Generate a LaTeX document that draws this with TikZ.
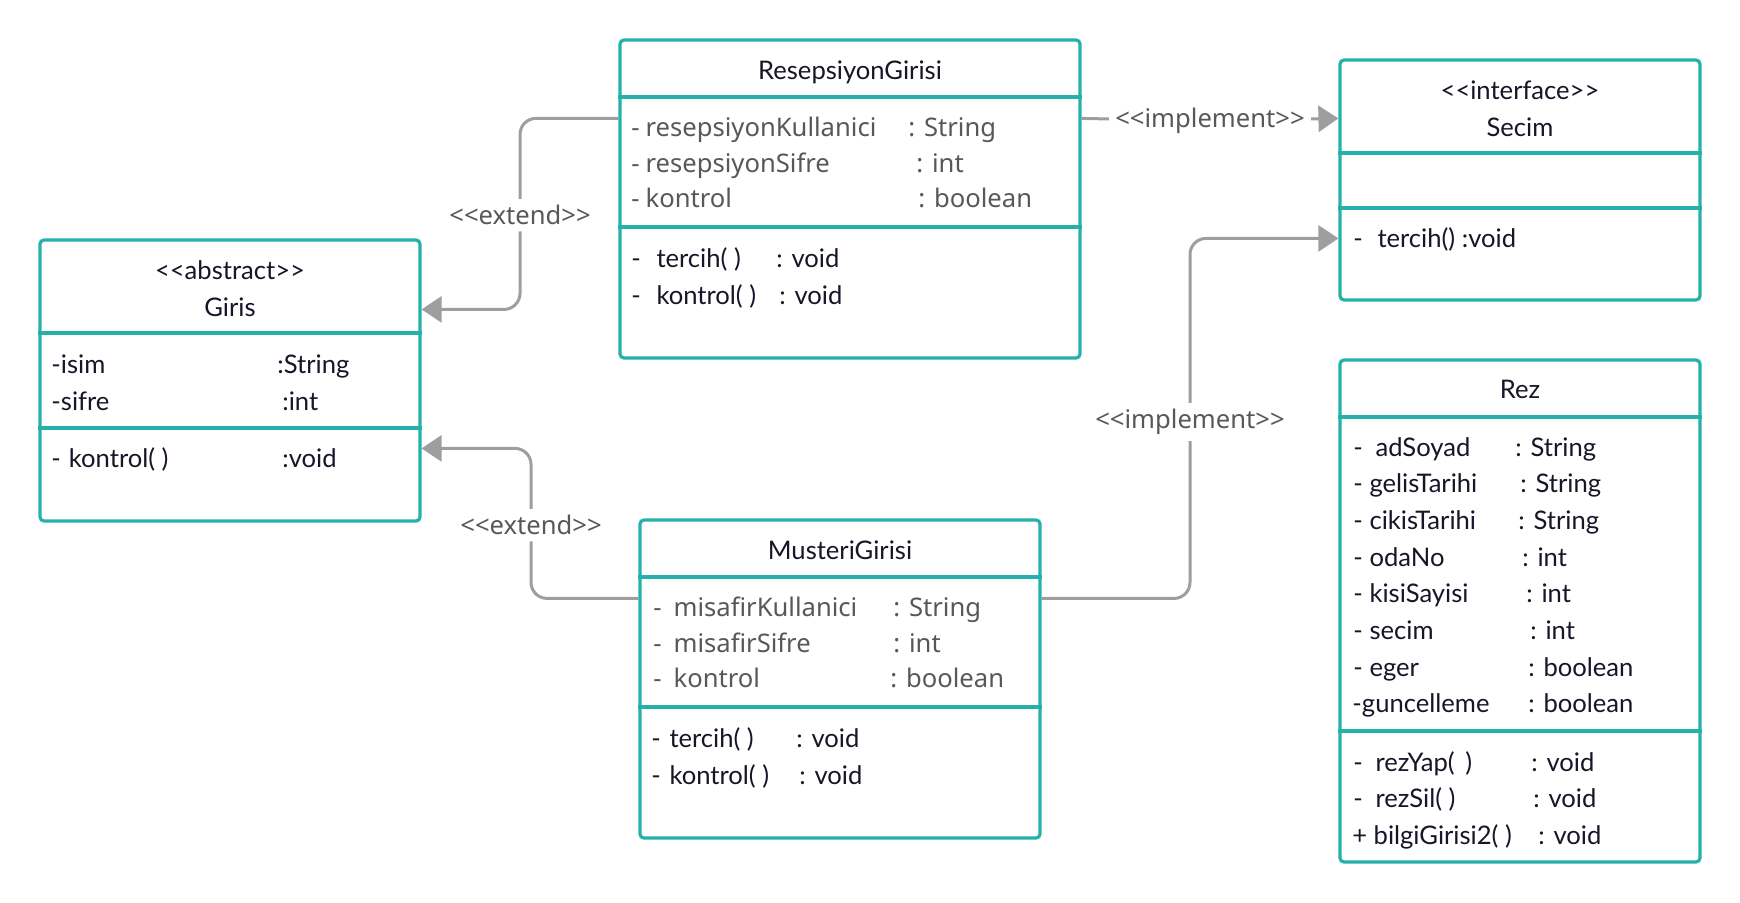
\documentclass[tikz,border=0pt]{standalone}
\usepackage{fontspec}
\setmainfont{Lato}
\newfontfamily\notofont{Noto Sans}[Ligatures=CommonOff]
\usetikzlibrary{arrows.meta}
\pgfdeclarelayer{background}
\pgfdeclarelayer{foreground}
\pgfsetlayers{background,main,foreground}
\definecolor{umlteal}{RGB}{38,176,172}
\definecolor{ink}{RGB}{22,22,40}
\definecolor{dim}{RGB}{88,88,88}
\definecolor{wire}{RGB}{158,158,158}
\newcommand{\st}[1]{<\kern0pt<#1>\kern0pt>}
\tikzset{
  classbox/.style={draw=umlteal, line width=1.6pt, rounded corners=2pt, fill=white},
  sep/.style={draw=umlteal, line width=1.6pt},
  txt/.style={anchor=base west, inner sep=0pt, text=ink, font=\fontsize{12.8}{15}\selectfont},
  gtxt/.style={txt, text=dim, font=\notofont\fontsize{12.8}{15}\selectfont},
  ctxt/.style={txt, anchor=base},
  link/.style={draw=wire, line width=1.5pt, rounded corners=8pt, -{Triangle[length=10pt,width=13pt]}},
  lbl/.style={fill=white, text=dim, inner sep=3pt, font=\notofont\fontsize{12.8}{15}\selectfont}
}

\begin{document}
\begin{tikzpicture}[x=0.5pt,y=-0.5pt]
\useasboundingbox (0,0) rectangle (1740,902);
% class boxes
\node[classbox, minimum width=190pt, minimum height=140.5pt] (giris) at (230,380.5) {};
\node[classbox, minimum width=230pt, minimum height=159pt] (resep) at (850,199) {};
\node[classbox, minimum width=180pt, minimum height=120pt] (secim) at (1520,180) {};
\node[classbox, minimum width=200pt, minimum height=159pt] (muster) at (840,679) {};
\node[classbox, minimum width=180pt, minimum height=251pt] (rez) at (1520,611) {};
\draw[sep] (giris.west |- 0,333) -- (giris.east |- 0,333);
\draw[sep] (giris.west |- 0,428) -- (giris.east |- 0,428);
\draw[sep] (resep.west |- 0,97) -- (resep.east |- 0,97);
\draw[sep] (resep.west |- 0,227) -- (resep.east |- 0,227);
\draw[sep] (secim.west |- 0,153) -- (secim.east |- 0,153);
\draw[sep] (secim.west |- 0,208) -- (secim.east |- 0,208);
\draw[sep] (muster.west |- 0,577) -- (muster.east |- 0,577);
\draw[sep] (muster.west |- 0,707) -- (muster.east |- 0,707);
\draw[sep] (rez.west |- 0,417) -- (rez.east |- 0,417);
\draw[sep] (rez.west |- 0,731) -- (rez.east |- 0,731);

% Giris
\node[ctxt] (g-st) at (230,279) {\st{abstract}};
\node[ctxt] (g-name) at (230,316) {Giris};
\node[txt] (g-a1) at (51,373) {-isim};
\node[txt] (g-a1t) at (277,373) {:String};
\node[txt] (g-a2) at (51,410) {-sifre};
\node[txt] (g-a2t) at (282,410) {:int};
\node[txt] (g-m1) at (51,467) {-\hspace{4pt}kontrol( )};
\node[txt] (g-m1t) at (282,467) {:void};

% ResepsiyonGirisi
\node[ctxt] (r-name) at (850,79) {ResepsiyonGirisi};
\node[gtxt] (r-a1) at (631,136) {-\hspace{3pt}resepsiyonKullanici};
\node[gtxt] (r-a1t) at (908,136) {: String};
\node[gtxt] (r-a2) at (631,172) {-\hspace{3pt}resepsiyonSifre};
\node[gtxt] (r-a2t) at (916,172) {: int};
\node[gtxt] (r-a3) at (631,207) {-\hspace{3pt}kontrol};
\node[gtxt] (r-a3t) at (918,207) {: boolean};
\node[txt] (r-m1) at (631,267) {-\hspace{7.8pt}tercih( )};
\node[txt] (r-m1t) at (776,267) {: void};
\node[txt] (r-m2) at (631,304) {-\hspace{7.8pt}kontrol( )};
\node[txt] (r-m2t) at (779,304) {: void};

% Secim
\node[ctxt] (s-st) at (1520,99) {\st{interface}};
\node[ctxt] (s-name) at (1520,136) {Secim};
\node[txt] (s-m1) at (1353,247) {-\hspace{7.3pt}tercih() :void};

% MusteriGirisi
\node[ctxt] (m-name) at (840,559) {MusteriGirisi};
\node[gtxt] (m-a1) at (653,616) {-\hspace{6pt}misafirKullanici};
\node[gtxt] (m-a1t) at (893,616) {: String};
\node[gtxt] (m-a2) at (653,652) {-\hspace{6pt}misafirSifre};
\node[gtxt] (m-a2t) at (893,652) {: int};
\node[gtxt] (m-a3) at (653,687) {-\hspace{6pt}kontrol};
\node[gtxt] (m-a3t) at (890,687) {: boolean};
\node[txt] (m-m1) at (651,747) {-\hspace{4.3pt}tercih( )};
\node[txt] (m-m1t) at (796,747) {: void};
\node[txt] (m-m2) at (651,784) {-\hspace{4.3pt}kontrol( )};
\node[txt] (m-m2t) at (799,784) {: void};

% Rez
\node[ctxt] (z-name) at (1520,398) {Rez};
\node[txt] (z-a1) at (1353,456) {-\hspace{6.3pt}adSoyad};
\node[txt] (z-a1t) at (1515,456) {: String};
\node[txt] (z-a2) at (1353,492) {-\hspace{3.3pt}gelisTarihi};
\node[txt] (z-a2t) at (1520,492) {: String};
\node[txt] (z-a3) at (1353,529) {-\hspace{3.3pt}cikisTarihi};
\node[txt] (z-a3t) at (1518,529) {: String};
\node[txt] (z-a4) at (1353,566) {-\hspace{3.3pt}odaNo};
\node[txt] (z-a4t) at (1522,566) {: int};
\node[txt] (z-a5) at (1353,602) {-\hspace{3.3pt}kisiSayisi};
\node[txt] (z-a5t) at (1526,602) {: int};
\node[txt] (z-a6) at (1353,639) {-\hspace{3.3pt}secim};
\node[txt] (z-a6t) at (1530,639) {: int};
\node[txt] (z-a7) at (1353,676) {-\hspace{3.3pt}eger};
\node[txt] (z-a7t) at (1528,676) {: boolean};
\node[txt] (z-a8) at (1352,712) {-guncelleme};
\node[txt] (z-a8t) at (1528,712) {: boolean};
\node[txt] (z-m1) at (1353,771) {-\hspace{6.3pt}rezYap(\hspace{2pt} )};
\node[txt] (z-m1t) at (1531,771) {: void};
\node[txt] (z-m2) at (1353,807) {-\hspace{6.3pt}rezSil( )};
\node[txt] (z-m2t) at (1533,807) {: void};
\node[txt] (z-m3) at (1352,844) {+\hspace{3.2pt}bilgiGirisi2( )};
\node[txt] (z-m3t) at (1538,844) {: void};

% relations
\begin{pgfonlayer}{foreground}
\node[lbl] (ext1) at (520,215) {\st{extend}};
\node[lbl] (ext2) at (531,525) {\st{extend}};
\node[lbl] (imp1) at (1210,121) {\st{implement}};
\node[lbl] (imp2) at (1190,422) {\st{implement}};
\end{pgfonlayer}
\begin{pgfonlayer}{background}
\draw[link] ([yshift=-40pt]resep.north west) -| (ext1) |- ([yshift=-35.5pt]giris.north east);
\draw[link] ([yshift=-40pt]muster.north west) -| (ext2) |- ([yshift=-105pt]giris.north east);
\draw[link] ([yshift=-40pt]resep.north east) -- (imp1) -- ([yshift=-30pt]secim.north west);
\draw[link] ([yshift=-40pt]muster.north east) -| (imp2) |- ([yshift=-90pt]secim.north west);
\end{pgfonlayer}
\end{tikzpicture}
\end{document}
